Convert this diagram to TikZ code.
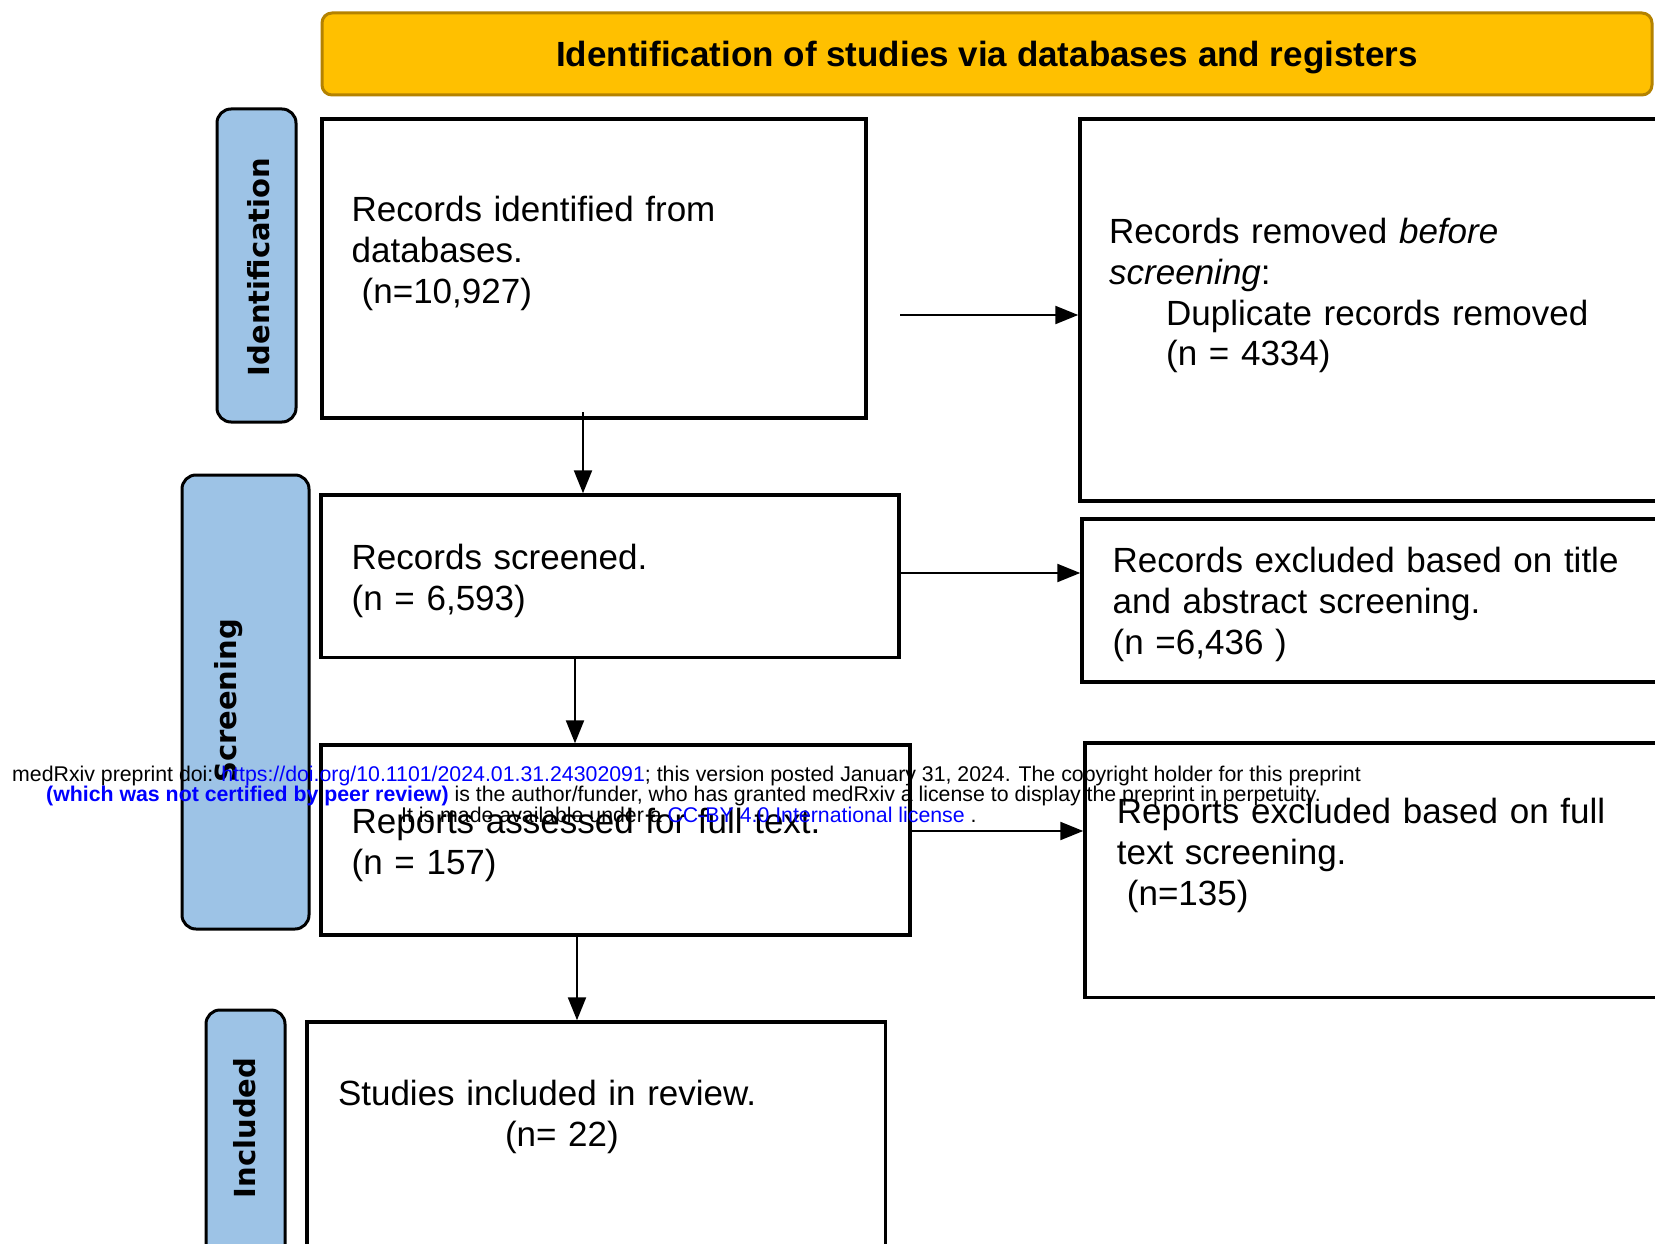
\documentclass[tikz,border=0pt]{standalone}
\usepackage{fontspec}
\setmainfont{Liberation Sans}
\newfontfamily\stagefont{DejaVu Sans}
\usetikzlibrary{arrows.meta}
\definecolor{bannerfill}{RGB}{255,192,0}
\definecolor{bannerdraw}{RGB}{180,130,0}
\definecolor{stagefill}{RGB}{157,195,230}
\definecolor{linkblue}{RGB}{0,0,255}
\begin{document}
\begin{tikzpicture}[x=1pt,y=-1pt,
  box/.style={draw=black, line width=3.5pt, fill=white, inner sep=0pt},
  stage/.style={draw=black, line width=3pt, fill=stagefill, rounded corners=14pt, inner sep=0pt},
  banner/.style={draw=bannerdraw, line width=3pt, fill=bannerfill, rounded corners=10pt, inner sep=0pt},
  titletext/.style={inner sep=0pt, font=\bfseries\fontsize{35}{41}\selectfont},
  boxtext/.style={anchor=base west, inner sep=0pt, font=\fontsize{35}{41}\selectfont, text width=560pt, align=left},
  stagetext/.style={rotate=90, inner sep=0pt, font=\stagefont\bfseries\fontsize{29}{34}\selectfont},
  arr/.style={line width=2.3pt, -{Triangle[length=23pt,width=18pt]}},
  wm/.style={anchor=base west, inner sep=0pt, font=\fontsize{21.3}{21}\selectfont}]
\useasboundingbox (0,0) rectangle (1655,1244);
\clip (0,0) rectangle (1655,1244);
\fill[white] (0,0) rectangle (1655,1244);

% banner
\node[banner, minimum width=1330pt, minimum height=82pt] (banner) at (987,54) {};
\node[titletext] (title) at (987,58) {Identification of studies via databases and registers};

% stage labels
\node[stage, minimum width=79pt, minimum height=313pt] (sid) at (256.5,265.5) {};
\node[stage, minimum width=127pt, minimum height=454pt] (sscr) at (245.5,702) {};
\node[stage, minimum width=79pt, minimum height=260pt] (sinc) at (245.5,1140) {};
\node[stagetext] (tid) at (259,267) {Identification};
\node[stagetext] (tscr) at (229,701) {Screening};
\node[stagetext] (tinc) at (245,1128) {Included};

% boxes
\node[box, minimum width=544pt, minimum height=299pt] (b1) at (594,268.5) {};
\node[box, minimum width=620pt, minimum height=382pt] (r1) at (1390,310) {};
\node[box, minimum width=578pt, minimum height=162.6pt] (b2) at (610,576.3) {};
\node[box, minimum width=618pt, minimum height=163pt] (r2) at (1391,600.5) {};
\node[box, minimum width=589pt, minimum height=190pt] (b3) at (615.5,840) {};
\node[box, minimum width=615pt, minimum height=254.5pt] (r3) at (1392.5,870.25) {};
\node[box, minimum width=578.6pt, minimum height=248pt] (b4) at (596.3,1146) {};

% box texts
\node[boxtext] (tb1) at (351.5,221) {Records identified from\\databases.\\\hspace*{10pt}(n=10,927)};
\node[boxtext] (tr1) at (1109,243) {Records removed \textit{before}\\\textit{screening}:\\\hspace*{57pt}Duplicate records removed\\\hspace*{57pt}(n = 4334)};
\node[boxtext] (tb2) at (351.5,569) {Records screened.\\(n = 6,593)};
\node[boxtext] (tr2) at (1112.5,572.5) {Records excluded based on title\\and abstract screening.\\(n =6,436 )};
\node[boxtext] (tb3) at (351.5,833) {Reports assessed for full text.\\(n = 157)};
\node[boxtext] (tr3) at (1116.7,823.7) {Reports excluded based on full\\text screening.\\\hspace*{10pt}(n=135)};
\node[boxtext] (tb4) at (337.8,1105.5) {Studies included in review.\\\hspace*{167pt}(n= 22)};

% connectors
\coordinate (a1) at (900,315);
\draw[arr] (a1) -- (a1 -| r1.west);
\coordinate (d1) at (583,412);
\draw[arr] (d1) -- (d1 |- b2.north);
\coordinate (y2) at (0,573);
\draw[arr] (b2.east |- y2) -- (r2.west |- y2);
\coordinate (x2) at (575,0);
\draw[arr] (x2 |- b2.south) -- (x2 |- b3.north);
\coordinate (y3) at (0,831);
\draw[arr] (b3.east |- y3) -- (r3.west |- y3);
\coordinate (x3) at (577,0);
\draw[arr] (x3 |- b3.south) -- (x3 |- b4.north);

% watermark
\node[wm] (wm1) at (12,781) {medRxiv preprint doi: \textcolor{linkblue}{https://doi.org/10.1101/2024.01.31.24302091}; this version posted January 31, 2024. The copyright holder for this preprint};
\node[wm] (wm2) at (46,801) {\textcolor{linkblue}{\bfseries (which was not certified by peer review)} is the author/funder, who has granted medRxiv a license to display the preprint in perpetuity.};
\node[wm] (wm3) at (401,822) {It is made available under a \textcolor{linkblue}{CC-BY 4.0 International license} .};
\end{tikzpicture}
\end{document}
